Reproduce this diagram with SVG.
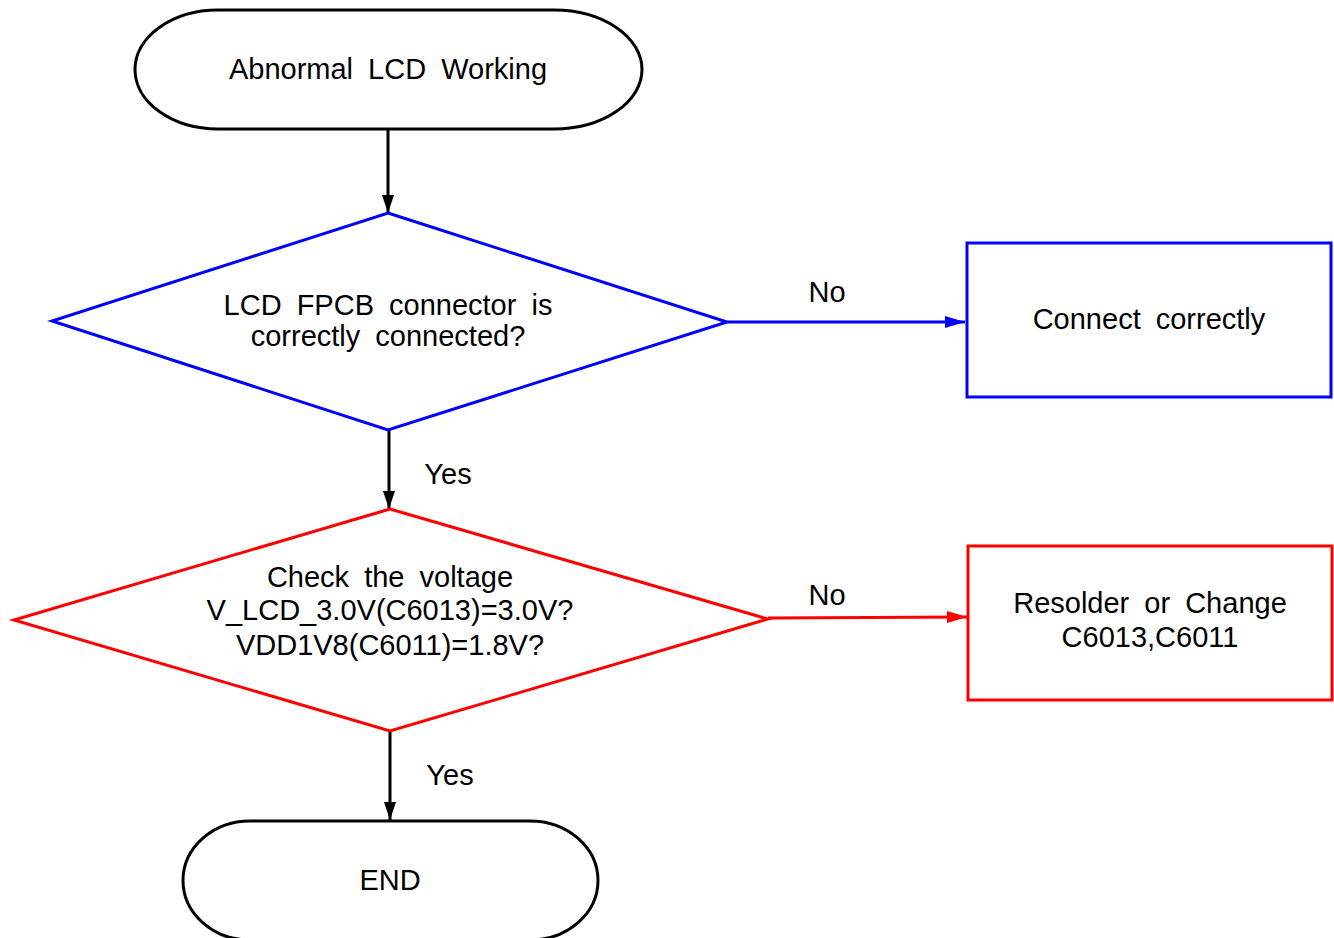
<svg xmlns="http://www.w3.org/2000/svg" width="1334" height="938" viewBox="0 0 1334 938">
<style>
text{font-family:"Liberation Sans",Arial,sans-serif;font-size:29px;word-spacing:7px;fill:#000;text-anchor:middle}
.term{fill:#fff;stroke:#000;stroke-width:3}
.blue{fill:#fff;stroke:#00f;stroke-width:3}
.red{fill:#fff;stroke:#f00;stroke-width:3}
.lk{fill:none;stroke:#000;stroke-width:3}
.lb{fill:none;stroke:#00f;stroke-width:3}
.lr{fill:none;stroke:#f00;stroke-width:3}
</style>
<defs>
<marker id="ak" markerUnits="userSpaceOnUse" markerWidth="20" markerHeight="14" refX="18" refY="6" orient="auto"><path d="M0,0 L18,6 L0,12 Z" fill="#000"/></marker>
<marker id="ab" markerUnits="userSpaceOnUse" markerWidth="22" markerHeight="14" refX="20" refY="6" orient="auto"><path d="M0,0 L20,6 L0,12 Z" fill="#00f"/></marker>
<marker id="ar" markerUnits="userSpaceOnUse" markerWidth="22" markerHeight="14" refX="20" refY="6" orient="auto"><path d="M0,0 L20,6 L0,12 Z" fill="#f00"/></marker>
</defs>
<rect width="1334" height="938" fill="#fff"/>
<g id="connectors">
<line class="lk" x1="388" y1="129" x2="388" y2="213" marker-end="url(#ak)"/>
<line class="lb" x1="727" y1="322" x2="965" y2="322" marker-end="url(#ab)"/>
<text x="827" y="302">No</text>
<line class="lk" x1="389" y1="430" x2="389" y2="509" marker-end="url(#ak)"/>
<text x="448" y="484">Yes</text>
<line class="lr" x1="768" y1="618" x2="967" y2="617" marker-end="url(#ar)"/>
<text x="827" y="605">No</text>
<line class="lk" x1="390" y1="731" x2="390" y2="820" marker-end="url(#ak)"/>
<text x="450" y="785">Yes</text>
</g>
<g id="start">
<path class="term" d="M218,10 H554 A88,59.5 0 0 1 554,129 H218 A83,59.5 0 0 1 218,10 Z"/>
<text x="388" y="79">Abnormal LCD Working</text>
</g>
<g id="decision1">
<polygon class="blue" points="388,213 727,322 388,430 52,321"/>
<text x="388" y="315">LCD FPCB connector is</text>
<text x="388" y="346">correctly connected?</text>
</g>
<g id="connect">
<rect class="blue" x="967" y="243" width="364" height="154"/>
<text x="1149" y="329">Connect correctly</text>
</g>
<g id="decision2">
<polygon class="red" points="390,509 768,619 390,731 14,620"/>
<text x="390" y="587">Check the voltage</text>
<text x="390" y="620">V_LCD_3.0V(C6013)=3.0V?</text>
<text x="390" y="655">VDD1V8(C6011)=1.8V?</text>
</g>
<g id="resolder">
<rect class="red" x="968" y="546" width="364" height="154"/>
<text x="1150" y="613">Resolder or Change</text>
<text x="1150" y="647">C6013,C6011</text>
</g>
<g id="end">
<path class="term" d="M250,821 H530 A68,59.5 0 0 1 530,940 H250 A67,59.5 0 0 1 250,821 Z"/>
<text x="390" y="890">END</text>
</g>
</svg>
